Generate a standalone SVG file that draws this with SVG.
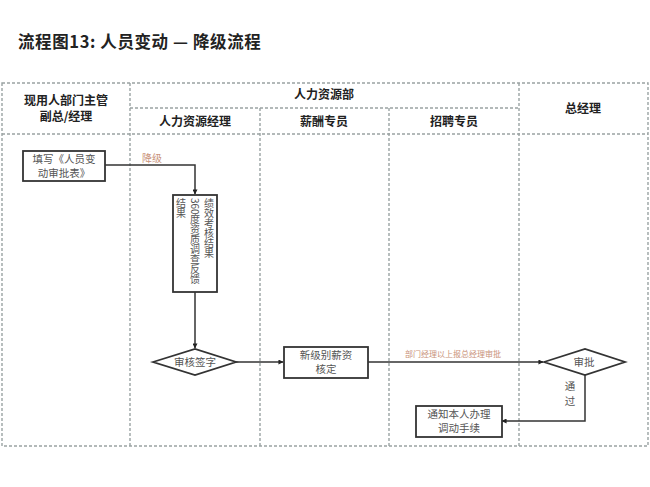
<svg xmlns="http://www.w3.org/2000/svg" width="650" height="487" viewBox="0 0 650 487">
<defs>
<marker id="arr" viewBox="0 0 6 6" refX="5.5" refY="3" markerWidth="5" markerHeight="5" orient="auto" markerUnits="userSpaceOnUse">
<path d="M0,0 L6,3 L0,6 z" fill="#222"/>
</marker>
<style>
.grid{stroke:#9aa3a3;stroke-width:1.4;stroke-dasharray:3,2;fill:none}
.hd{font-family:"Noto Sans CJK SC","Liberation Sans",sans-serif;font-weight:bold;font-size:12px;fill:#222;text-anchor:middle}
.box{fill:#fff;stroke:#333;stroke-width:1.8}
.t{font-family:"Noto Sans CJK SC","Liberation Serif",serif;font-size:10.5px;fill:#555;text-anchor:middle}
.vt{font-family:"Noto Sans CJK SC","Liberation Serif",serif;font-size:10px;fill:#555;writing-mode:vertical-rl}
.ln{fill:none;stroke:#333;stroke-width:1.5}
.lbl{font-family:"Noto Sans CJK SC","Liberation Serif",serif;fill:#c9927a;text-anchor:middle}
</style>
</defs>
<rect width="650" height="487" fill="#fff"/>
<text x="18" y="48" font-family="'Noto Sans CJK SC','Liberation Sans',sans-serif" font-weight="bold" font-size="16.5" letter-spacing="0.6" fill="#222">流程图13:  人员变动 —  降级流程</text>
<g id="grid">
<rect class="grid" x="2" y="83" width="646" height="363"/>
<line class="grid" x1="130" y1="83" x2="130" y2="446"/>
<line class="grid" x1="519" y1="83" x2="519" y2="446"/>
<line class="grid" x1="260" y1="108" x2="260" y2="446"/>
<line class="grid" x1="389" y1="108" x2="389" y2="446"/>
<line class="grid" x1="130" y1="108" x2="519" y2="108"/>
<line class="grid" x1="2" y1="134" x2="648" y2="134"/>
</g>
<g id="headers">
<text class="hd" x="66" y="105">现用人部门主管</text>
<text class="hd" x="66" y="121">副总/经理</text>
<text class="hd" x="324" y="99">人力资源部</text>
<text class="hd" x="583" y="113">总经理</text>
<text class="hd" x="195" y="126">人力资源经理</text>
<text class="hd" x="324" y="126">薪酬专员</text>
<text class="hd" x="454" y="126">招聘专员</text>
</g>
<g id="connectors">
<polyline class="ln" points="105,165 195,165 195,194" marker-end="url(#arr)"/>
<line class="ln" x1="195" y1="292" x2="195" y2="348" marker-end="url(#arr)"/>
<line class="ln" x1="236" y1="362" x2="283" y2="362" marker-end="url(#arr)"/>
<line class="ln" x1="368" y1="362" x2="543" y2="362" marker-end="url(#arr)"/>
<polyline class="ln" points="585,374 585,421 502,421" marker-end="url(#arr)"/>
<text class="lbl" x="152" y="162" font-size="10">降级</text>
<text class="lbl" x="453" y="357" font-size="8">部门经理以上报总经理审批</text>
<text class="t" x="570" y="390">通</text>
<text class="t" x="570" y="405">过</text>
</g>
<g id="n1">
<rect class="box" x="23" y="151" width="82" height="30"/>
<text class="t" x="64" y="163">填写《人员变</text>
<text class="t" x="64" y="177">动审批表》</text>
</g>
<g id="n2">
<rect class="box" x="173" y="195" width="44" height="97"/>
<text class="vt" x="209" y="198">绩效考核结果</text>
<text class="vt" x="195" y="198">360度资质调查反馈</text>
<text class="vt" x="181" y="198">结果</text>
</g>
<g id="n3">
<polygon class="box" points="153,362 195,349 236,362 195,375" stroke-width="1.5"/>
<text class="t" x="195" y="366">审核签字</text>
</g>
<g id="n4">
<rect class="box" x="284" y="347" width="84" height="31"/>
<text class="t" x="326" y="359">新级别薪资</text>
<text class="t" x="326" y="373">核定</text>
</g>
<g id="n5">
<polygon class="box" points="544,362 585,349 625,362 585,375" stroke-width="1.5"/>
<text class="t" x="584" y="366">审批</text>
</g>
<g id="n6">
<rect class="box" x="416" y="406" width="86" height="31"/>
<text class="t" x="459" y="418">通知本人办理</text>
<text class="t" x="459" y="432">调动手续</text>
</g>
</svg>
